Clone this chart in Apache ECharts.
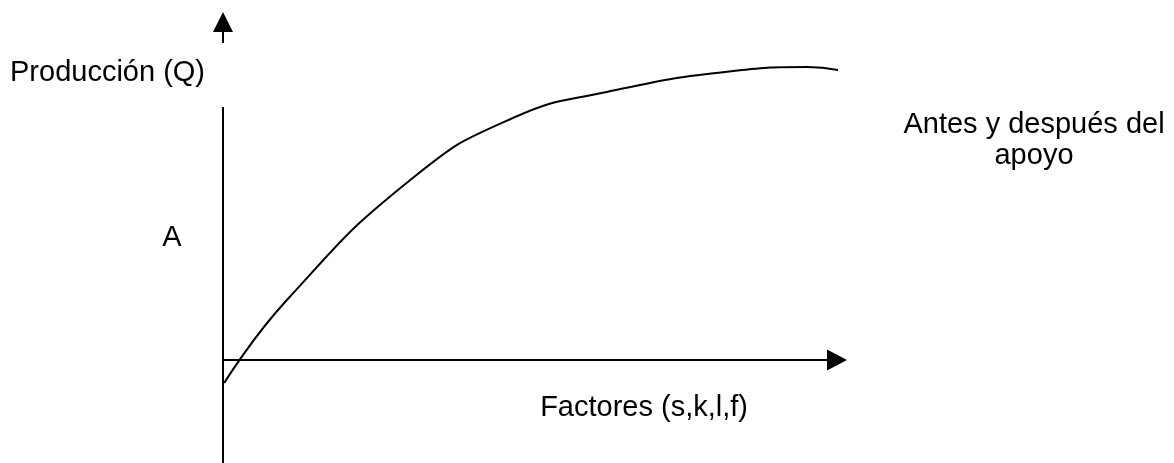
<!DOCTYPE html>
<html><head><meta charset="utf-8">
<script src="https://cdn.jsdelivr.net/npm/echarts@6/dist/echarts.min.js"></script>
<style>html,body{margin:0;padding:0;background:#fff}#c{width:1174px;height:463px}</style>
</head><body><div id="c"></div>
<script>
// Production curve (factor units vs production units)
const curveX = [0.02, 1.04, 3.09, 4.72, 6.25, 8.31, 9.51, 10.16];
const curveY = [-0.46, 1.2, 3.64, 4.84, 5.36, 5.78, 5.86, 5.76];
// Vertical axis drawn in two parts (gap where the label sits)
const yAxisLowerX = [0, 0];
const yAxisLowerY = [-2.06, 5.06];
const yArrowX = [0, 0];
const yArrowY = [6.34, 6.76];
// Texts
const yTitle = 'Producción (Q)';
const xTitle = 'Factores (s,k,l,f)';
const pointLabel = 'A';
const noteLines = ['Antes y después del', 'apoyo'];

const FONT = '29px "Liberation Sans", Arial, sans-serif';
const chart = echarts.init(document.getElementById('c'), null, {renderer: 'canvas'});
function txt(t, x, y, align) {
  return {type: 'text', x: x, y: y, silent: true,
    style: {text: t, fill: '#000', font: FONT, align: align, verticalAlign: 'middle',
            textAlign: align, textVerticalAlign: 'middle'}};
}
chart.setOption({
  animation: false,
  backgroundColor: '#fff',
  grid: {left: 223, width: 614, top: 12, bottom: 0, containLabel: false},
  xAxis: {type: 'value', min: 0, max: 10,
    axisLine: {show: true, onZero: true, symbol: ['none', 'triangle'], symbolSize: [21, 20],
      lineStyle: {color: '#000', width: 2}},
    axisTick: {show: false}, axisLabel: {show: false}, splitLine: {show: false}},
  yAxis: {type: 'value', min: -2.06, max: 6.96,
    axisLine: {show: false}, axisTick: {show: false}, axisLabel: {show: false}, splitLine: {show: false}},
  series: [
    {type: 'line', data: curveX.map((x, i) => [x, curveY[i]]), smooth: 0.5, showSymbol: false,
      clip: false, lineStyle: {color: '#000', width: 2}, silent: true},
    {type: 'line', data: yAxisLowerX.map((x, i) => [x, yAxisLowerY[i]]), showSymbol: false,
      clip: false, lineStyle: {color: '#000', width: 2}, silent: true,
      markLine: {silent: true, symbol: ['none', 'triangle'], symbolSize: [20, 20],
        label: {show: false}, lineStyle: {color: '#000', width: 2, type: 'solid'},
        itemStyle: {color: '#000'},
        data: [[{coord: [yArrowX[0], yArrowY[0]]}, {coord: [yArrowX[1], yArrowY[1]]}]]}}
  ],
  graphic: [
    txt(yTitle, 10, 73, 'left'),
    txt(pointLabel, 172, 238, 'center'),
    txt(noteLines[0], 1034, 125, 'center'),
    txt(noteLines[1], 1034, 156, 'center'),
    txt(xTitle, 748, 408, 'right')
  ]
});
</script></body></html>
